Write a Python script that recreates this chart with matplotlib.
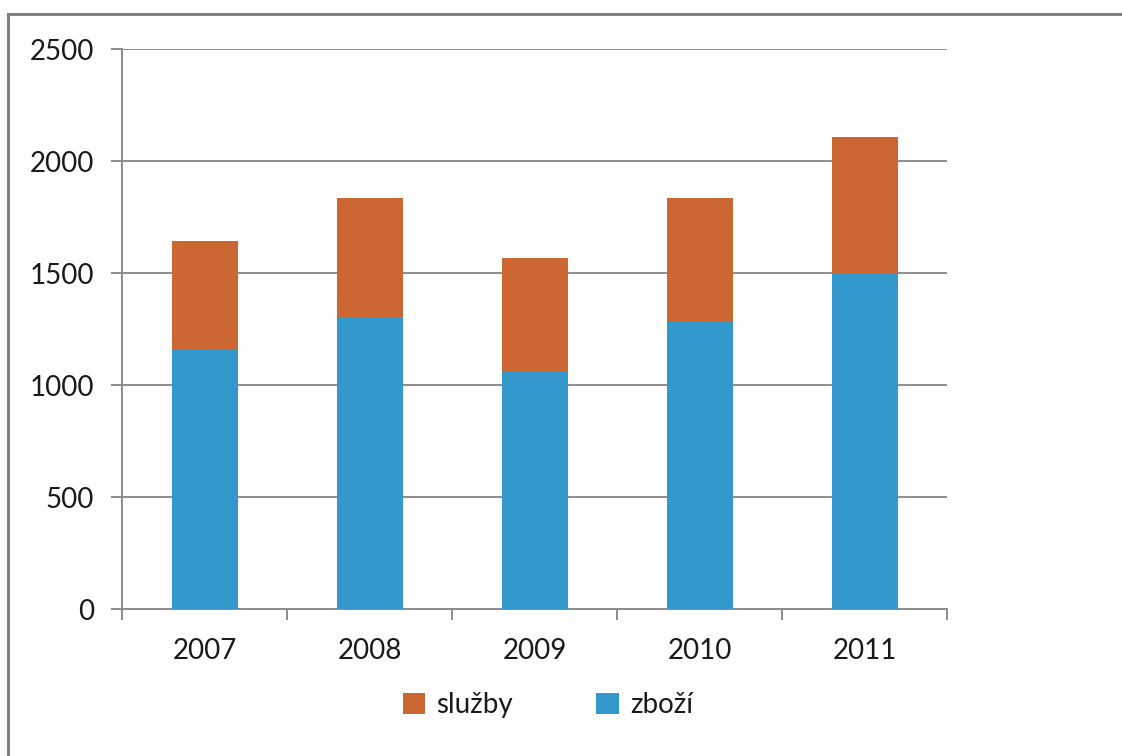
import matplotlib
matplotlib.use("Agg")
import matplotlib.pyplot as plt
from matplotlib.patches import Patch, Rectangle
import numpy as np

years = ["2007", "2008", "2009", "2010", "2011"]
zbozi = [1158, 1300, 1062, 1282, 1497]
sluzby = [485, 537, 507, 555, 610]

c_zbozi = "#3399CC"
c_sluzby = "#CC6633"
grid_c = "#8C8C8C"

plt.rcParams["font.family"] = ["Lato", "DejaVu Sans"]

fig = plt.figure(figsize=(11.22, 7.56), dpi=100)
fig.patch.set_facecolor("white")

# outer frame (only top and left edges visible in the reference)
fig.patches.append(Rectangle((8 / 1122, -0.1), 1.2, 1 - 14 / 756 + 0.1,
                             transform=fig.transFigure, fill=False,
                             edgecolor="#7F7F7F", linewidth=2.2))

ax = fig.add_axes([122 / 1122, 1 - 609 / 756, (947 - 122) / 1122, (609 - 49) / 756])
x = np.arange(len(years))
ax.bar(x, zbozi, width=0.4, color=c_zbozi, zorder=3)
ax.bar(x, sluzby, width=0.4, bottom=zbozi, color=c_sluzby, zorder=3)

ax.set_xlim(-0.5, len(years) - 0.5)
ax.set_ylim(0, 2500)
ax.set_yticks(range(0, 2501, 500))
ax.yaxis.grid(True, color=grid_c, linewidth=1.4, zorder=0)
ax.set_axisbelow(True)

for s in ["top", "right"]:
    ax.spines[s].set_visible(False)
for s in ["left", "bottom"]:
    ax.spines[s].set_color(grid_c)
    ax.spines[s].set_linewidth(1.4)

ax.set_xticks(x)
ax.set_xticklabels(years)
ax.set_xticks(np.arange(-0.5, len(years)), minor=True)
ax.tick_params(axis="x", which="major", length=0, pad=21, labelsize=20, colors="#1a1a1a")
ax.tick_params(axis="x", which="minor", length=8, width=1.4, color=grid_c)
ax.tick_params(axis="y", length=8, width=1.4, color=grid_c, pad=12, labelsize=20, labelcolor="#1a1a1a")

handles = [Patch(facecolor=c_sluzby, label="služby"), Patch(facecolor=c_zbozi, label="zboží")]
fig.legend(handles=handles, loc="center", bbox_to_anchor=(548 / 1122, 1 - 705 / 756),
           ncol=2, frameon=False, fontsize=20, handlelength=0.8, handleheight=0.8,
           handletextpad=0.4, columnspacing=3.0, labelcolor="#1a1a1a")

fig.savefig("out.png", dpi=100, facecolor="white")
